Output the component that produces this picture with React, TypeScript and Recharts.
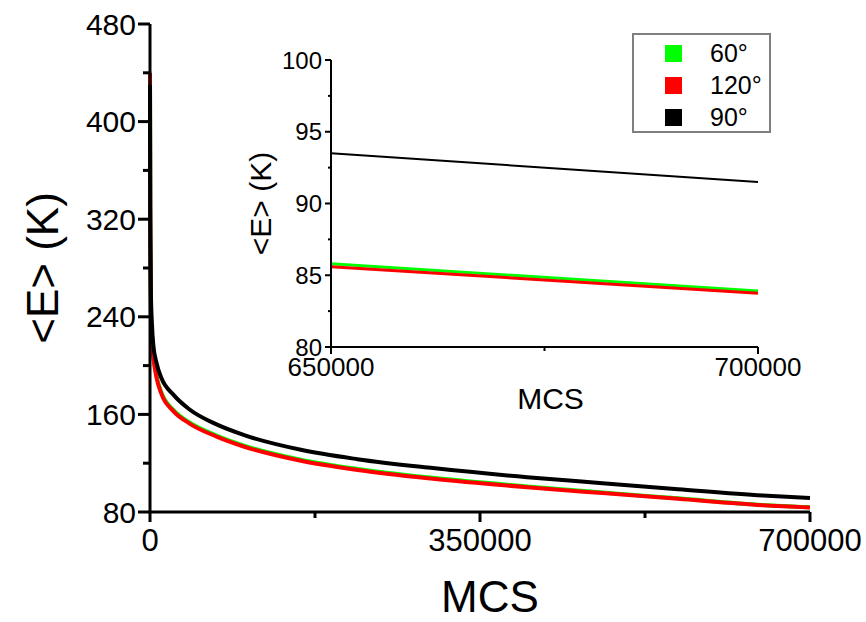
import { LineChart, Line, XAxis, YAxis, Legend, Label } from 'recharts';

// MCS steps and mean energy <E> (K) for the three angles
const mcs = [0, 300, 1000, 2000, 3500, 7000, 12000, 25000, 42000, 70000, 100000, 160000, 220000, 300000, 400000, 480000, 560000, 650000, 700000];
const e60 = [438, 305, 243, 222, 208.5, 191.2, 178.2, 163.5, 153.4, 142.9, 134.4, 122.9, 115.3, 108, 100.9, 96, 91.2, 85.8, 83.9];
const e120 = [440, 300, 240, 220, 207, 190, 177, 162.5, 152.5, 142, 133.5, 122, 114.5, 107.3, 100.3, 95.5, 90.8, 85.6, 83.75];
const e90 = [430, 330, 258, 235, 217, 202, 190, 176, 164, 152, 143, 131, 123.3, 116, 108.5, 103.6, 98.7, 93.5, 91.5];

const mainYTicks = [80, 120, 160, 200, 240, 280, 320, 360, 400, 440, 480];
const mainXTicks = [0, 175000, 350000, 525000, 700000];
const insetYTicks = [80, 82.5, 85, 87.5, 90, 92.5, 95, 97.5, 100];
const insetXTicks = [650000, 675000, 700000];

const series = [
  { key: 'a60', name: '60°', color: '#00ff00' },
  { key: 'a120', name: '120°', color: '#ff0000' },
  { key: 'a90', name: '90°', color: '#000000' },
];
const legendOrder = ['a60', 'a120', 'a90'];

const data = mcs.map((m, i) => ({ mcs: m, a60: e60[i], a120: e120[i], a90: e90[i] }));
const insetData = data.filter((d) => d.mcs >= 650000);

const FONT = '"Liberation Sans", Arial, sans-serif';

const MainYTick = ({ x, y, payload }: any) => {
  const major = (payload.value - 80) % 80 === 0;
  return (
    <g>
      <line x1={x} x2={x - (major ? 12 : 7)} y1={y} y2={y} stroke="#000" strokeWidth={3} />
      {major && (
        <text x={x - 14} y={y + 10.5} textAnchor="end" fontSize={30} fontFamily={FONT} fill="#000">
          {payload.value}
        </text>
      )}
    </g>
  );
};

const MainXTick = ({ x, y, payload }: any) => {
  const major = payload.value % 350000 === 0;
  return (
    <g>
      <line x1={x} x2={x} y1={y} y2={y + (major ? 10 : 6)} stroke="#000" strokeWidth={3} />
      {major && (
        <text x={x} y={y + 39} textAnchor="middle" fontSize={31} fontFamily={FONT} fill="#000">
          {payload.value}
        </text>
      )}
    </g>
  );
};

const InsetYTick = ({ x, y, payload }: any) => {
  const major = payload.value % 5 === 0;
  return (
    <g>
      <line x1={x} x2={x - (major ? 6 : 3)} y1={y} y2={y} stroke="#000" strokeWidth={2} />
      {major && (
        <text x={x - 9} y={y + 8.5} textAnchor="end" fontSize={24} fontFamily={FONT} fill="#000">
          {payload.value}
        </text>
      )}
    </g>
  );
};

const InsetXTick = ({ x, y, payload }: any) => {
  const major = payload.value % 50000 === 0;
  return (
    <g>
      <line x1={x} x2={x} y1={y} y2={y + (major ? 7 : 4)} stroke="#000" strokeWidth={2} />
      {major && (
        <text x={x} y={y + 29} textAnchor="middle" fontSize={26} fontFamily={FONT} fill="#000">
          {payload.value}
        </text>
      )}
    </g>
  );
};

const LegendBox = () => (
  <div
    style={{
      position: 'relative',
      width: 139,
      height: 100,
      border: '2px solid #7f7f7f',
      boxSizing: 'border-box',
      background: '#fff',
      fontFamily: FONT,
    }}
  >
    {legendOrder.map((k, i) => {
      const s = series.find((d) => d.key === k)!;
      return (
        <div key={k}>
          <span style={{ position: 'absolute', left: 31, top: 10 + i * 32, width: 17, height: 17, background: s.color }} />
          <span style={{ position: 'absolute', left: 76, top: 2 + i * 32, fontSize: 25, color: '#000', lineHeight: '32px', whiteSpace: 'nowrap' }}>
            {s.name}
          </span>
        </div>
      );
    })}
  </div>
);

export default function App() {
  return (
    <div style={{ position: 'absolute', left: 0, top: 0, width: 866, height: 622, background: '#fff' }}>
      <div style={{ position: 'absolute', left: 0, top: 0 }}>
        <LineChart width={866} height={622} data={data} margin={{ top: 24, right: 56, left: 0, bottom: 0 }}>
          <XAxis
            dataKey="mcs"
            type="number"
            domain={[0, 700000]}
            ticks={mainXTicks}
            interval={0}
            height={110}
            tickSize={0}
            tickMargin={0}
            tickLine={false}
            axisLine={{ stroke: '#000', strokeWidth: 3 }}
            tick={<MainXTick />}
          >
            <Label
              content={({ viewBox }: any) => (
                <text x={viewBox.x + viewBox.width / 2 + 10} y={viewBox.y + 100} textAnchor="middle" fontSize={44} fontFamily={FONT} fill="#000">
                  MCS
                </text>
              )}
            />
          </XAxis>
          <YAxis
            type="number"
            domain={[80, 480]}
            ticks={mainYTicks}
            interval={0}
            width={150}
            tickSize={0}
            tickMargin={0}
            tickLine={false}
            axisLine={{ stroke: '#000', strokeWidth: 3 }}
            tick={<MainYTick />}
          >
            <Label
              content={({ viewBox }: any) => {
                const cx = viewBox.x + 42;
                const cy = viewBox.y + viewBox.height / 2;
                return (
                  <text x={cx} y={cy} transform={`rotate(-90, ${cx}, ${cy})`} textAnchor="middle" dominantBaseline="central" fontSize={44} fontFamily={FONT} fill="#000">
                    {'<E> (K)'}
                  </text>
                );
              }}
            />
          </YAxis>
          <Legend
            layout="vertical"
            align="center"
            verticalAlign="middle"
            wrapperStyle={{ position: 'absolute', left: 632, top: 33, width: 139 }}
            content={() => <LegendBox />}
          />
          {series.map((s) => (
            <Line key={s.key} type="monotone" dataKey={s.key} name={s.name} stroke={s.color} strokeWidth={4} dot={false} activeDot={false} isAnimationActive={false} />
          ))}
        </LineChart>
      </div>
      <div style={{ position: 'absolute', left: 230, top: 40 }}>
        <LineChart width={630} height={390} data={insetData} margin={{ top: 20, right: 102, left: 0, bottom: 0 }}>
          <XAxis
            dataKey="mcs"
            type="number"
            domain={[650000, 700000]}
            ticks={insetXTicks}
            interval={0}
            height={83}
            tickSize={0}
            tickMargin={0}
            tickLine={false}
            axisLine={{ stroke: '#000', strokeWidth: 2 }}
            tick={<InsetXTick />}
          >
            <Label
              content={({ viewBox }: any) => (
                <text x={viewBox.x + viewBox.width / 2 + 6} y={viewBox.y + 62} textAnchor="middle" fontSize={30} fontFamily={FONT} fill="#000">
                  MCS
                </text>
              )}
            />
          </XAxis>
          <YAxis
            type="number"
            domain={[80, 100]}
            ticks={insetYTicks}
            interval={0}
            width={101}
            tickSize={0}
            tickMargin={0}
            tickLine={false}
            axisLine={{ stroke: '#000', strokeWidth: 2 }}
            tick={<InsetYTick />}
          >
            <Label
              content={({ viewBox }: any) => {
                const cx = viewBox.x + 30;
                const cy = viewBox.y + viewBox.height / 2;
                return (
                  <text x={cx} y={cy} transform={`rotate(-90, ${cx}, ${cy})`} textAnchor="middle" dominantBaseline="central" fontSize={30} fontFamily={FONT} fill="#000">
                    {'<E> (K)'}
                  </text>
                );
              }}
            />
          </YAxis>
          {series.map((s) => (
            <Line key={s.key} type="linear" dataKey={s.key} name={s.name} stroke={s.color} strokeWidth={s.key === 'a90' ? 2 : 3} dot={false} activeDot={false} isAnimationActive={false} />
          ))}
        </LineChart>
      </div>
    </div>
  );
}
